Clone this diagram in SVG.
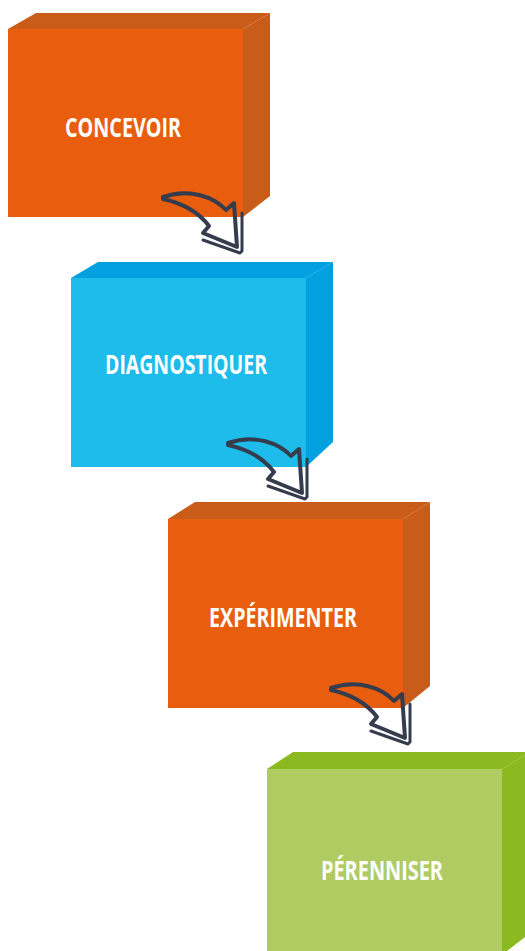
<svg xmlns="http://www.w3.org/2000/svg" xmlns:xlink="http://www.w3.org/1999/xlink" width="525" height="951" viewBox="0 0 525 951">
<defs>
<style>
.lbl{font-family:"Open Sans","Liberation Sans",sans-serif;font-weight:700;font-size:26px;fill:#ffffff}
.or-f{fill:#E85D0E}.or-s{fill:#C95C19}
.bl-f{fill:#1EBCEA}.bl-s{fill:#03A0DF}
.gr-f{fill:#AFCB62}.gr-s{fill:#8BB920}
.arr{fill:none;stroke:#353C4E;stroke-width:4;stroke-linejoin:round;stroke-linecap:round}
.shd{fill:none;stroke:#353C4E;stroke-width:3;stroke-linejoin:round;stroke-linecap:round}
</style>
<g id="arrowShape">
<path class="arr" d="M163,197 C190,188 214,197 226,210 L234,203 L237,247 L203,233 L209,226 C200,214 186,204 163,199 Z"/>
<path class="shd" d="M203,240 L240,253 L242,251 L242,213"/>
</g>
</defs>
<g id="box-concevoir">
<polygon class="or-s" points="8,29 36,13 270,13 243,29"/>
<polygon class="or-s" points="243,29 270,13 270,196 243,217"/>
<rect class="or-f" x="8" y="29" width="235" height="188"/>
<text class="lbl" x="65" y="137" textLength="116" lengthAdjust="spacingAndGlyphs">CONCEVOIR</text>
</g>
<g id="box-diagnostiquer">
<polygon class="bl-s" points="71,278 98,262 333,262 306,278"/>
<polygon class="bl-s" points="306,278 333,262 333,442 306,467"/>
<rect class="bl-f" x="71" y="278" width="235" height="189"/>
<text class="lbl" x="105" y="374" textLength="162" lengthAdjust="spacingAndGlyphs">DIAGNOSTIQUER</text>
</g>
<g id="box-experimenter">
<polygon class="or-s" points="168,519 195,502 430,502 403,519"/>
<polygon class="or-s" points="403,519 430,502 430,686 403,708"/>
<rect class="or-f" x="168" y="519" width="235" height="189"/>
<text class="lbl" x="209" y="627" textLength="148" lengthAdjust="spacingAndGlyphs">EXPÉRIMENTER</text>
</g>
<g id="box-perenniser">
<polygon class="gr-s" points="267,769 293,752 530,752 502,769"/>
<polygon class="gr-s" points="502,769 530,752 530,933 502,955"/>
<rect class="gr-f" x="267" y="769" width="235" height="190"/>
<text class="lbl" x="321" y="880" textLength="122" lengthAdjust="spacingAndGlyphs">PÉRENNISER</text>
</g>
<g id="connectors">
<use xlink:href="#arrowShape"/>
<use xlink:href="#arrowShape" transform="translate(65,246)"/>
<use xlink:href="#arrowShape" transform="translate(168,491)"/>
</g>
</svg>
